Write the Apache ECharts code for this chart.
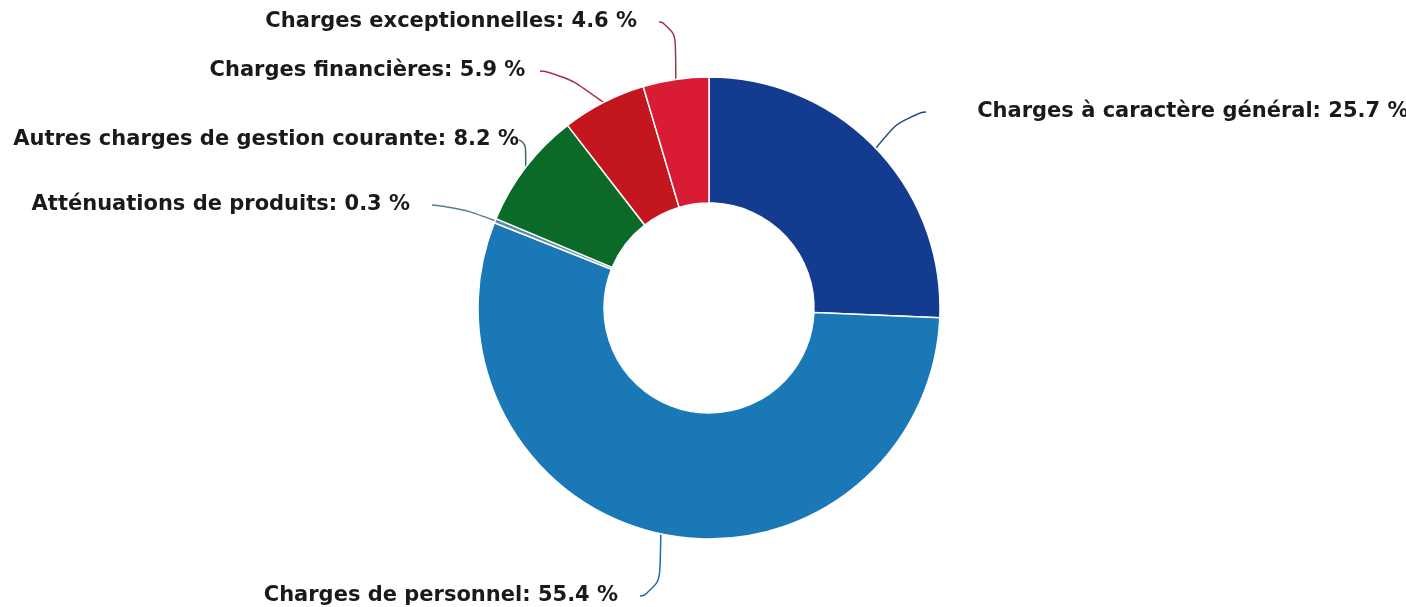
<!DOCTYPE html>
<html>
<head>
<meta charset="utf-8">
<script src="https://cdn.jsdelivr.net/npm/echarts@6/dist/echarts.min.js"></script>
<style>
html,body{margin:0;padding:0;background:#fff;}
#chart{width:1406px;height:607px;}
</style>
</head>
<body>
<div id="chart"></div>
<script>
const categories = [
  "Charges à caractère général",
  "Charges de personnel",
  "Atténuations de produits",
  "Autres charges de gestion courante",
  "Charges financières",
  "Charges exceptionnelles"
];
const values = [25.7, 55.4, 0.3, 8.2, 5.9, 4.6];
const colors = ["#133c90", "#1b78b6", "#5f8aa6", "#0b6a28", "#c4161f", "#da1b34"];
const lineColors = ["#1d4a8f", "#1b6fb0", "#5a7a90", "#3d6a6a", "#a0324a", "#a0324a"];

// label anchor positions and gaps (in spaces) to the label line (layout only)
const labelPos = [
  {x: 926, y: 112, align: "left", gap: 7},
  {x: 640, y: 596, align: "right", gap: 3},
  {x: 432, y: 205, align: "right", gap: 3},
  {x: 519, y: 140, align: "right", gap: 0},
  {x: 540, y: 71, align: "right", gap: 2},
  {x: 659, y: 22, align: "right", gap: 3}
];

const chart = echarts.init(document.getElementById('chart'));
chart.setOption({
  backgroundColor: '#ffffff',
  animation: false,
  series: [{
    type: 'pie',
    center: [709, 308],
    radius: [105, 231],
    startAngle: 90,
    clockwise: true,
    avoidLabelOverlap: false,
    itemStyle: {borderColor: '#ffffff', borderWidth: 1.5},
    label: {
      show: true,
      position: 'outside',
      formatter: function (p) {
        const lp = labelPos[p.dataIndex];
        const sp = '\u00a0'.repeat(lp.gap);
        const t = p.name + ': ' + p.value + ' %';
        return lp.align === 'left' ? sp + t : t + sp;
      },
      fontFamily: 'DejaVu Sans',
      fontWeight: 'bold',
      fontSize: 21,
      color: '#1a1a1a'
    },
    labelLine: {show: true, smooth: 0.8, length: 20, length2: 20, lineStyle: {width: 1.5}},
    labelLayout: function (params) {
      const p = labelPos[params.dataIndex];
      return {x: p.x, y: p.y, align: p.align, verticalAlign: 'middle'};
    },
    data: categories.map((c, i) => ({
      name: c,
      value: values[i],
      itemStyle: {color: colors[i]},
      labelLine: {lineStyle: {color: lineColors[i]}}
    }))
  }]
});
</script>
</body>
</html>
